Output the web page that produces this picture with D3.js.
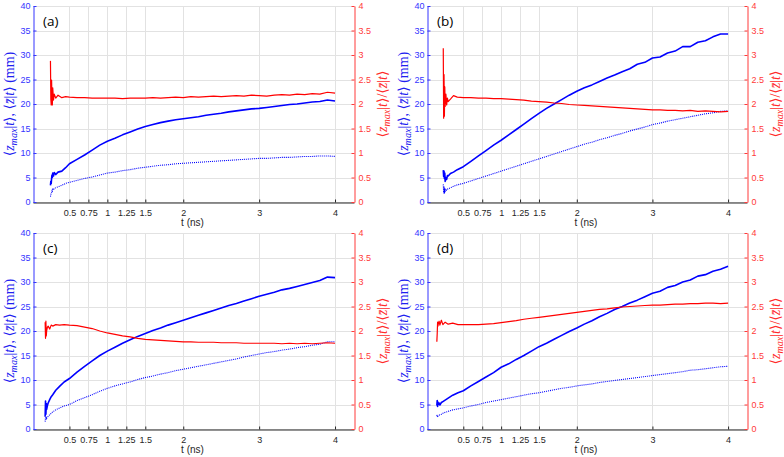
<!DOCTYPE html>
<html><head><meta charset="utf-8">
<script src="https://cdn.jsdelivr.net/npm/d3@7"></script>
<style>body{margin:0;background:#fff} svg{display:block}</style>
</head><body>
<svg id="chart" width="784" height="457"></svg>
<script>
// ---------------- data ----------------
const xTicks = [0.5, 0.75, 1, 1.25, 1.5, 2, 3, 4];
const xTickLabels = ["0.5", "0.75", "1", "1.25", "1.5", "2", "3", "4"];
const leftTicks = [0, 5, 10, 15, 20, 25, 30, 35, 40];
const rightTicks = [0, 0.5, 1, 1.5, 2, 2.5, 3, 3.5, 4];
const rightTickLabels = ["0", "0.5", "1", "1.5", "2", "2.5", "3", "3.5", "4"];
const panelLabels = ["(a)", "(b)", "(c)", "(d)"];

const tLate = [0.5,0.6,0.7,0.8,0.9,1.0,1.1,1.2,1.3,1.4,1.5,1.6,1.7,1.8,1.9,2.0,2.1,2.2,2.3,2.4,2.5,2.6,2.7,2.8,2.9,3.0,3.1,3.2,3.3,3.4,3.5,3.6,3.7,3.8,3.9,4.0];

const tEarlyA = [0.25,0.255,0.26,0.265,0.27,0.275,0.28,0.29,0.3,0.32,0.35,0.4,0.45];
const zmaxA = [3.4,4.2,3.8,4.8,5.5,5.0,5.9,5.3,6.0,5.6,6.1,6.3,7.0,
  7.8,8.7,9.6,10.6,11.6,12.4,13.0,13.7,14.3,14.9,15.4,15.8,16.2,16.5,16.8,17.0,17.2,17.4,17.7,17.9,18.1,18.4,18.6,18.8,19.0,19.1,19.3,19.5,19.7,19.9,20.0,20.2,20.4,20.5,20.8,20.6];
const zmeanA = [1.1,1.5,1.8,2.0,2.3,2.2,2.6,2.5,2.8,2.9,3.1,3.4,3.8,
  4.0,4.4,4.8,5.1,5.5,5.9,6.1,6.4,6.6,6.9,7.1,7.3,7.5,7.6,7.8,7.9,8.0,8.1,8.2,8.3,8.4,8.5,8.6,8.7,8.8,8.9,8.9,9.0,9.1,9.1,9.2,9.3,9.3,9.4,9.4,9.3];
const ratioA = [2.88,2.1,1.98,2.49,2.1,1.98,2.33,2.08,2.2,2.12,2.18,2.13,2.15,
  2.14,2.13,2.13,2.12,2.12,2.12,2.12,2.11,2.12,2.12,2.12,2.13,2.12,2.13,2.14,2.13,2.15,2.14,2.15,2.16,2.15,2.16,2.17,2.16,2.18,2.17,2.16,2.18,2.19,2.18,2.20,2.19,2.21,2.20,2.24,2.22];

const tEarlyB = [0.235,0.24,0.245,0.25,0.255,0.26,0.27,0.28,0.29,0.3,0.33,0.37,0.42];
const zmaxB = [6.5,5.2,6.3,4.8,5.9,4.2,5.0,4.6,5.4,5.3,5.8,6.1,6.6,
  7.2,8.3,9.4,10.5,11.6,12.6,13.7,14.8,15.9,17.0,18.1,19.1,20.0,20.9,21.8,22.6,23.3,23.9,24.6,25.3,25.9,26.6,27.2,28.1,28.5,29.4,29.6,30.4,30.8,31.7,31.7,32.6,32.9,33.7,34.3,34.3];
const zmeanB = [3.6,1.8,3.2,1.7,2.9,2.2,2.5,2.4,2.6,2.7,2.9,3.2,3.5,
  3.8,4.3,4.8,5.3,5.8,6.3,6.8,7.3,7.8,8.3,8.8,9.3,9.8,10.3,10.8,11.3,11.8,12.2,12.7,13.1,13.6,14.0,14.5,14.9,15.3,15.8,16.1,16.5,16.8,17.1,17.4,17.7,18.0,18.2,18.5,18.6];
const ratioB = [3.14,1.71,2.6,1.75,2.35,1.95,2.2,1.98,2.12,2.05,2.1,2.17,2.14,
  2.13,2.13,2.12,2.12,2.11,2.11,2.10,2.09,2.08,2.06,2.05,2.04,2.02,2.01,1.99,1.98,1.97,1.96,1.95,1.94,1.93,1.92,1.91,1.90,1.89,1.88,1.88,1.87,1.87,1.86,1.87,1.85,1.86,1.85,1.84,1.85];

const tEarlyC = [0.18,0.185,0.19,0.195,0.2,0.21,0.22,0.24,0.26,0.28,0.32,0.37,0.43];
const zmaxC = [2.5,5.7,3.0,5.2,4.0,4.8,5.3,6.0,6.6,7.0,7.9,8.7,9.6,
  10.3,11.6,12.8,13.9,15.0,15.9,16.7,17.5,18.2,18.9,19.5,20.1,20.6,21.2,21.7,22.2,22.7,23.2,23.7,24.2,24.7,25.2,25.6,26.1,26.6,27.1,27.5,27.9,28.4,28.7,29.1,29.5,29.9,30.3,31.0,30.9];
const zmeanC = [1.5,2.4,1.8,2.5,2.2,2.4,2.6,2.9,3.2,3.5,3.9,4.3,4.7,
  5.0,5.8,6.4,7.0,7.7,8.3,8.8,9.2,9.6,10.1,10.5,10.8,11.2,11.5,11.9,12.2,12.5,12.8,13.1,13.4,13.7,14.0,14.3,14.7,15.0,15.3,15.6,15.8,16.1,16.3,16.6,16.8,17.1,17.3,17.8,17.8];
const ratioC = [2.18,1.85,2.2,1.9,2.0,2.08,2.1,2.04,2.12,2.1,2.13,2.12,2.13,
  2.12,2.11,2.08,2.05,2.00,1.96,1.93,1.90,1.88,1.85,1.83,1.82,1.81,1.80,1.79,1.78,1.78,1.77,1.77,1.77,1.76,1.76,1.76,1.75,1.75,1.75,1.75,1.75,1.74,1.75,1.74,1.75,1.74,1.75,1.76,1.75];

const tEarlyD = [0.15,0.155,0.16,0.165,0.17,0.18,0.19,0.21,0.23,0.26,0.3,0.36,0.43];
const zmaxD = [4.8,5.8,4.6,5.5,5.0,5.3,4.9,5.4,5.6,5.9,6.3,6.9,7.4,
  7.8,8.8,9.7,10.6,11.5,12.6,13.3,14.2,15.0,15.9,16.8,17.5,18.3,19.1,19.9,20.6,21.4,22.1,22.9,23.6,24.4,25.0,25.7,26.3,27.0,27.7,28.1,28.9,29.3,30.0,30.4,31.2,31.5,32.2,32.6,33.2];
const zmeanD = [2.9,2.5,2.8,2.6,2.7,2.8,2.9,3.0,3.2,3.4,3.6,3.9,4.1,
  4.3,4.7,5.0,5.4,5.7,6.0,6.3,6.6,6.9,7.2,7.4,7.7,8.0,8.3,8.5,8.8,9.0,9.2,9.5,9.7,9.9,10.1,10.3,10.5,10.7,10.9,11.1,11.3,11.5,11.7,12.0,12.1,12.3,12.5,12.7,12.8];
const ratioD = [1.78,1.95,2.18,2.1,2.15,2.2,2.12,2.22,2.13,2.18,2.14,2.16,2.13,
  2.13,2.13,2.13,2.14,2.15,2.17,2.19,2.21,2.24,2.26,2.28,2.30,2.32,2.34,2.36,2.38,2.40,2.42,2.44,2.45,2.47,2.49,2.50,2.51,2.52,2.53,2.53,2.54,2.55,2.55,2.56,2.56,2.57,2.57,2.56,2.57];

// ---------------- drawing ----------------
const BLUE = "#0000ff", RED = "#ff0000";
const BLUE_AX = "#3535ff", RED_AX = "#ff3a3a";
const GRID = "#e2e2e2", DARK = "#262626";

const layout = [
  {L: 33,  R: 354, T: 6,   B: 202},
  {L: 427, R: 747, T: 6,   B: 202},
  {L: 33,  R: 354, T: 233, B: 429},
  {L: 427, R: 747, T: 233, B: 429}
];
const series = [
  {tEarly: tEarlyA, zmax: zmaxA, zmean: zmeanA, ratio: ratioA},
  {tEarly: tEarlyB, zmax: zmaxB, zmean: zmeanB, ratio: ratioB},
  {tEarly: tEarlyC, zmax: zmaxC, zmean: zmeanC, ratio: ratioC},
  {tEarly: tEarlyD, zmax: zmaxD, zmean: zmeanD, ratio: ratioD}
];

const svg = d3.select("#chart");

function mathText(g, parts, x, y, rot, color, target) {
  const t = g.append("text")
    .attr("transform", `translate(${x},${y}) rotate(${rot})`)
    .attr("text-anchor", "middle")
    .attr("font-family", "'Liberation Serif','DejaVu Serif',serif")
    .attr("font-size", 12)
    .attr("fill", color);
  parts.forEach(([s, k]) => {
    const sp = t.append("tspan").text(s);
    if (k === "i" || k === "s") sp.attr("font-style", "italic");
    if (k === "s") sp.attr("font-size", "0.72em").attr("dy", 2.5);
    if (k === "r") sp.attr("dy", -2.5);
  });
  const len = t.node().getComputedTextLength();
  const fs = Math.max(9, Math.min(14, 12 * target / len));
  t.attr("font-size", fs);
  return t;
}

const leftParts = [["⟨","n"],["z","i"],["max","s"],["|","r"],["t","i"],["⟩, ⟨","n"],["z̄","i"],["|","n"],["t","i"],["⟩ (mm)","n"]];
const rightParts = [["⟨","n"],["z","i"],["max","s"],["|","r"],["t","i"],["⟩/⟨","n"],["z̄","i"],["|","n"],["t","i"],["⟩","n"]];

layout.forEach((p, i) => {
  const s = series[i];
  const g = svg.append("g");
  const x = d3.scaleLinear().domain([0.02, 4.25]).range([p.L, p.R]);
  const yL = d3.scaleLinear().domain([0, 40]).range([p.B, p.T]);
  const yR = d3.scaleLinear().domain([0, 4]).range([p.B, p.T]);

  // grid
  g.append("g").selectAll("line").data(xTicks).join("line")
    .attr("x1", d => Math.round(x(d)) + 0.5).attr("x2", d => Math.round(x(d)) + 0.5)
    .attr("y1", p.T).attr("y2", p.B).attr("stroke", GRID).attr("stroke-width", 1);
  g.append("g").selectAll("line").data(leftTicks).join("line")
    .attr("y1", d => Math.round(yL(d)) + 0.5).attr("y2", d => Math.round(yL(d)) + 0.5)
    .attr("x1", p.L).attr("x2", p.R).attr("stroke", GRID).attr("stroke-width", 1);

  // data
  const times = s.tEarly.concat(tLate);
  const line = d3.line().x(d => x(d[0])).y(d => d[1]);
  g.append("path")
    .attr("d", line(times.map((t, k) => [t, yL(s.zmean[k])])))
    .attr("fill", "none").attr("stroke", BLUE).attr("stroke-width", 1.1)
    .attr("stroke-dasharray", "1,1");
  g.append("path")
    .attr("d", line(times.map((t, k) => [t, yL(s.zmax[k])])))
    .attr("fill", "none").attr("stroke", BLUE).attr("stroke-width", 1.6)
    .attr("stroke-linejoin", "round");
  g.append("path")
    .attr("d", line(times.map((t, k) => [t, yR(s.ratio[k])])))
    .attr("fill", "none").attr("stroke", RED).attr("stroke-width", 1.2)
    .attr("stroke-linejoin", "round");

  // bottom axis
  const ax = g.append("g").attr("transform", `translate(0,${p.B + 0.5})`)
    .call(d3.axisBottom(x).tickValues(xTicks).tickFormat((d, k) => xTickLabels[k])
      .tickSizeInner(-3).tickSizeOuter(0).tickPadding(7));
  ax.select(".domain").attr("stroke", DARK);
  ax.selectAll(".tick line").attr("stroke", DARK);
  ax.selectAll("text").attr("fill", DARK).attr("font-size", 9)
    .attr("font-family", "'Liberation Sans',Arial,sans-serif");

  // left axis
  const al = g.append("g").attr("transform", `translate(${p.L + 0.5},0)`)
    .call(d3.axisLeft(yL).tickValues(leftTicks).tickSizeInner(-3).tickSizeOuter(0).tickPadding(3));
  al.select(".domain").attr("stroke", BLUE_AX);
  al.selectAll(".tick line").attr("stroke", BLUE_AX);
  al.selectAll("text").attr("fill", BLUE_AX).attr("font-size", 9)
    .attr("font-family", "'Liberation Sans',Arial,sans-serif");

  // right axis
  const ar = g.append("g").attr("transform", `translate(${p.R + 0.5},0)`)
    .call(d3.axisRight(yR).tickValues(rightTicks).tickFormat((d, k) => rightTickLabels[k])
      .tickSizeInner(-3).tickSizeOuter(0).tickPadding(4));
  ar.select(".domain").attr("stroke", RED_AX);
  ar.selectAll(".tick line").attr("stroke", RED_AX);
  ar.selectAll("text").attr("fill", RED_AX).attr("font-size", 9)
    .attr("font-family", "'Liberation Sans',Arial,sans-serif");

  // x label
  g.append("text").attr("x", (p.L + p.R) / 2 - 1).attr("y", p.B + 24)
    .attr("text-anchor", "middle").attr("font-size", 10).attr("fill", DARK)
    .attr("font-family", "'Liberation Sans',Arial,sans-serif").text("t (ns)");

  // y labels
  mathText(g, leftParts, p.L - 19, (p.T + p.B) / 2, -90, "#2020f0", 105);
  mathText(g, rightParts, p.R + 33, (p.T + p.B) / 2, -90, "#ff2a2a", 80);

  // panel label
  g.append("text").attr("x", p.L + 10).attr("y", p.T + 20)
    .attr("font-family", "'Open Sans',sans-serif").attr("font-size", 13.5)
    .attr("fill", "#000").text(panelLabels[i]);
});
</script>
</body></html>
